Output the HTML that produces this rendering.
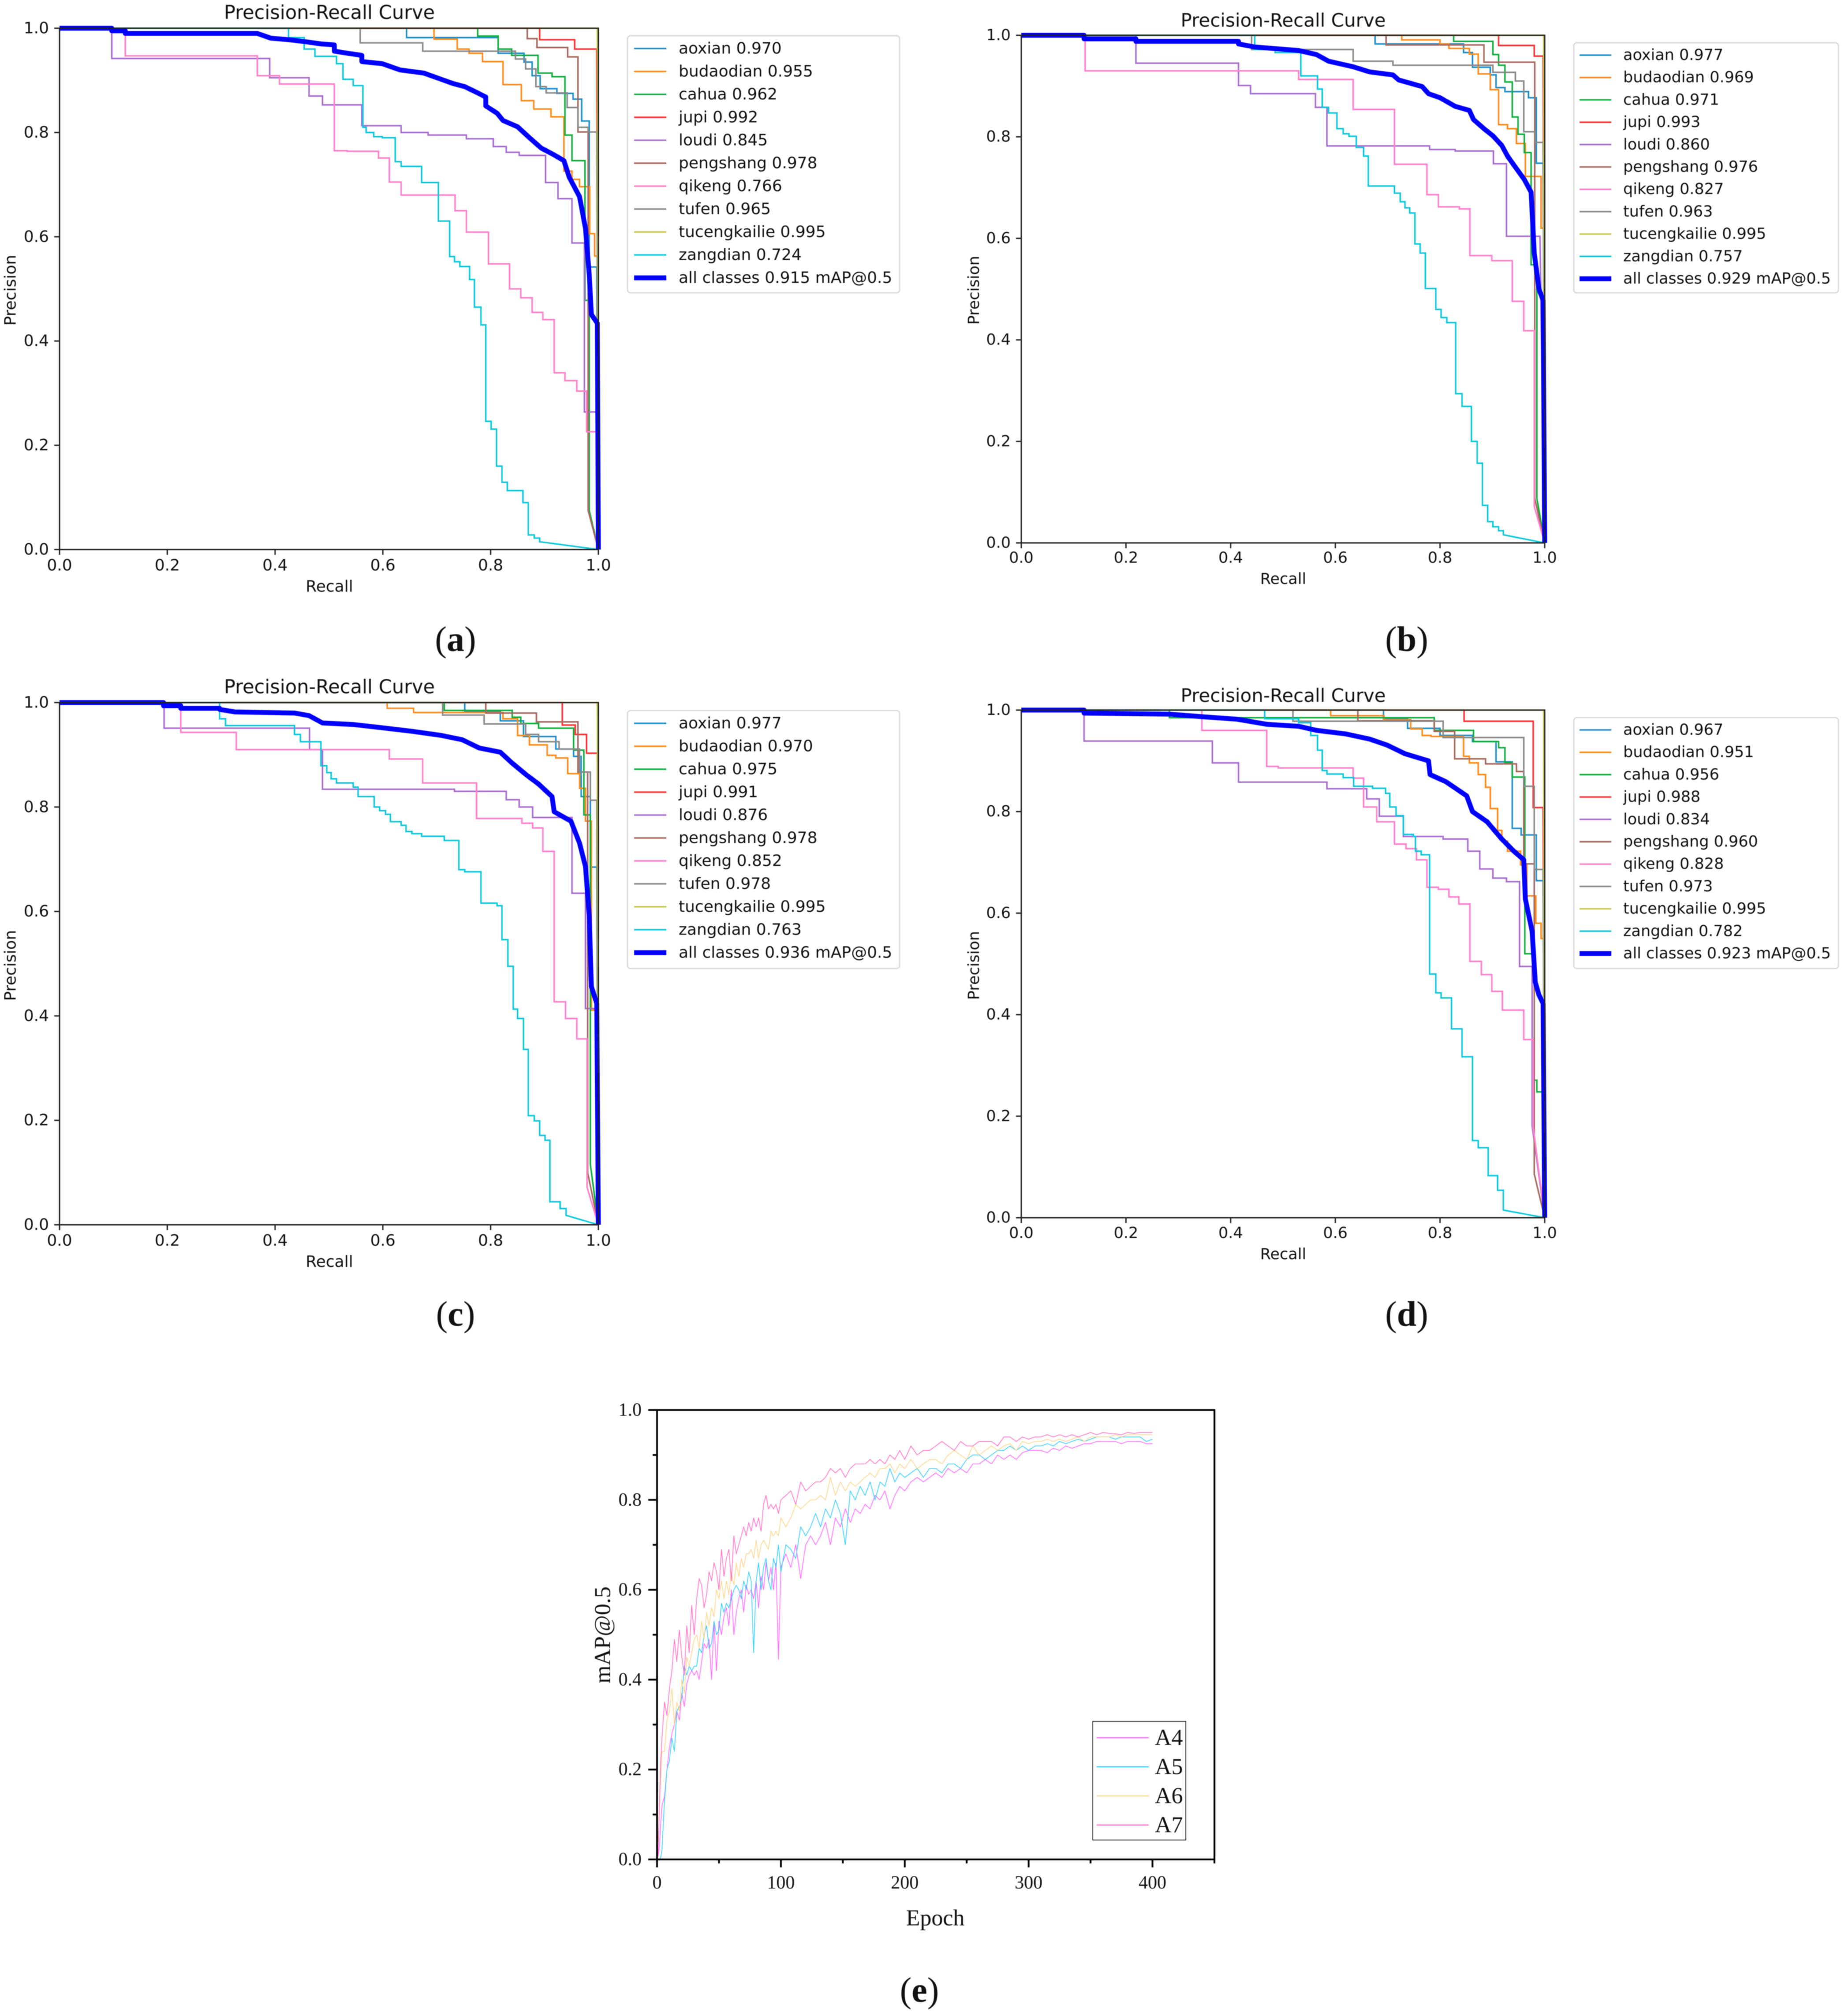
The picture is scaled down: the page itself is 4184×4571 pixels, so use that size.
<!DOCTYPE html>
<html lang="en">
<head>
<meta charset="utf-8">
<title>Precision-Recall Curves and mAP Comparison</title>
<style>
html,body{margin:0;padding:0;background:#fff;}
svg{display:block;filter:blur(0.7px);}
</style>
</head>
<body>
<svg id="figure" xmlns="http://www.w3.org/2000/svg" width="4184" height="4571" viewBox="0 0 4184 4571"></svg>
<script>
const seriesNames = ["aoxian","budaodian","cahua","jupi","loudi","pengshang","qikeng","tufen","tucengkailie","zangdian"];
const prTicks = [0,0.2,0.4,0.6,0.8,1.0];
const apA = [0.970,0.955,0.962,0.992,0.845,0.978,0.766,0.965,0.995,0.724,0.915];
const apB = [0.977,0.969,0.971,0.993,0.860,0.976,0.827,0.963,0.995,0.757,0.929];
const apC = [0.977,0.970,0.975,0.991,0.876,0.978,0.852,0.978,0.995,0.763,0.936];
const apD = [0.967,0.951,0.956,0.988,0.834,0.960,0.828,0.973,0.995,0.782,0.923];

/* Panel (a) */
const aAoxianR = [0,.644,.814,.862,.877,.892,.923,.953,.969,.983,.997,1];
const aAoxianP = [1,.982,.952,.935,.909,.884,.875,.864,.822,.542,.542,0];
const aBudaodianR = [0,.695,.738,.76,.785,.823,.857,.88,.912,.936,.951,.965,.984,.993,.998,1];
const aBudaodianP = [1,.979,.96,.952,.936,.892,.861,.845,.83,.726,.71,.696,.606,.563,.563,0];
const aCahuaR = [0,.776,.814,.839,.888,.914,.938,.951,.975,.983,1];
const aCahuaP = [1,.985,.96,.948,.914,.907,.795,.746,.478,.075,0];
const aJupiR = [0,.891,.956,.997,1];
const aJupiP = [1,.978,.96,.96,0];
const aLoudiR = [0,.097,.39,.463,.488,.561,.634,.684,.755,.805,.829,.853,.902,.925,.951,.974,.996,1];
const aLoudiP = [1,.942,.905,.87,.853,.813,.8,.795,.788,.773,.762,.756,.704,.673,.588,.264,.264,0];
const aPengshangR = [0,.868,.886,.943,.962,.981,1];
const aPengshangP = [1,.98,.963,.945,.801,.075,0];
const aQikengR = [0,.122,.367,.408,.51,.534,.592,.612,.634,.734,.755,.796,.835,.856,.877,.897,.918,.938,.96,.978,.996,1];
const aQikengP = [1,.947,.909,.893,.765,.764,.751,.705,.68,.65,.609,.548,.5,.483,.455,.441,.339,.324,.304,.226,.226,0];
const aTufenR = [0,.558,.674,.846,.865,.884,.903,.942,.962,.981,.997,1];
const aTufenP = [1,.972,.956,.941,.922,.888,.876,.848,.81,.801,.801,0];
const aTucengR = [0,.998,1];
const aTucengP = [1,1,0];
const aZangdianR = [0,.425,.454,.474,.514,.526,.545,.563,.569,.583,.599,.623,.634,.672,.703,.724,.733,.743,.761,.77,.782,.791,.801,.811,.821,.831,.86,.87,.881,.891,1];
const aZangdianP = [1,.982,.96,.946,.932,.902,.89,.81,.8,.792,.79,.744,.735,.704,.63,.562,.552,.543,.518,.465,.431,.246,.231,.16,.129,.113,.09,.028,.022,.015,0];
const aAllR = [0,.097,.097,.122,.122,.367,.392,.425,.457,.485,.51,.51,.534,.561,.561,.599,.632,.676,.703,.73,.752,.774,.791,.791,.812,.823,.85,.872,.894,.916,.936,.946,.965,.976,.983,.987,.998,1];
const aAllP = [1,1,.995,.995,.99,.99,.981,.978,.974,.97,.968,.956,.952,.948,.936,.932,.92,.914,.904,.894,.888,.877,.868,.851,.837,.823,.811,.79,.77,.758,.746,.714,.677,.616,.528,.451,.434,0];

/* Panel (b) */
const bAoxianR = [0,.676,.845,.862,.896,.907,.924,.969,.984,.997,1];
const bAoxianP = [1,.983,.966,.937,.922,.897,.889,.877,.748,.748,0];
const bBudaodianR = [0,.727,.8,.817,.856,.873,.896,.912,.929,.946,.963,.993,.998,1];
const bBudaodianP = [1,.991,.983,.974,.963,.924,.893,.824,.816,.787,.722,.62,.62,0];
const bCahuaR = [0,.826,.901,.912,.924,.938,.949,.961,.974,.985,1];
const bCahuaP = [1,.988,.962,.941,.908,.839,.805,.769,.548,.088,0];
const bJupiR = [0,.912,.98,.997,1];
const bJupiP = [1,.98,.959,.959,0];
const bLoudiR = [0,.219,.415,.438,.562,.584,.78,.829,.902,.927,.991,1];
const bLoudiP = [1,.945,.901,.885,.858,.782,.775,.772,.747,.604,.604,0];
const bPengshangR = [0,.697,.884,.981,1];
const bPengshangP = [1,.981,.947,.088,0];
const bQikengR = [0,.122,.53,.634,.713,.775,.797,.837,.857,.899,.938,.96,.98,1];
const bQikengP = [1,.93,.913,.854,.746,.686,.662,.658,.566,.556,.476,.418,.072,0];
const bTufenR = [0,.44,.634,.71,.901,.944,.96,.982,.997,1];
const bTufenP = [1,.972,.949,.941,.927,.91,.81,.789,.789,0];
const bTucengR = [0,.998,1];
const bTucengP = [1,1,0];
const bZangdianR = [0,.446,.485,.534,.566,.575,.587,.603,.615,.626,.64,.654,.663,.713,.724,.733,.742,.752,.762,.772,.792,.802,.813,.83,.842,.86,.871,.881,.891,.901,.912,.921,1];
const bZangdianP = [1,.972,.966,.92,.894,.858,.847,.816,.806,.801,.779,.762,.703,.689,.672,.66,.65,.589,.571,.501,.46,.444,.434,.294,.269,.2,.157,.074,.042,.032,.024,.016,0];
const bAllR = [0,.12,.12,.219,.219,.415,.415,.446,.53,.564,.587,.634,.665,.71,.721,.766,.778,.8,.829,.856,.864,.884,.901,.918,.929,.94,.961,.974,.98,.989,.997,1];
const bAllP = [1,1,.993,.993,.988,.988,.983,.977,.97,.962,.949,.938,.928,.922,.912,.899,.885,.877,.86,.852,.834,.816,.802,.783,.762,.746,.716,.691,.571,.5,.478,0];

/* Panel (c) */
const cAoxianR = [0,.752,.818,.861,.921,.954,.968,.985,.997,1];
const cAoxianP = [1,.983,.965,.935,.911,.897,.82,.685,.685,0];
const cBudaodianR = [0,.608,.657,.823,.85,.872,.905,.921,.943,.965,.976,.987,.996,1];
const cBudaodianP = [1,.989,.981,.969,.937,.919,.899,.894,.864,.836,.773,.411,.411,0];
const cCahuaR = [0,.714,.84,.856,.889,.954,.973,.985,1];
const cCahuaP = [1,.985,.972,.96,.951,.909,.785,.116,0];
const cJupiR = [0,.933,.957,.978,.998,1];
const cJupiP = [1,.957,.939,.903,.903,0];
const cLoudiR = [0,.194,.464,.488,.733,.829,.853,.878,.951,.976,.995,1];
const cLoudiP = [1,.951,.91,.834,.83,.814,.8,.78,.635,.414,.414,0];
const cPengshangR = [0,.791,.885,.962,.98,1];
const cPengshangP = [1,.98,.963,.867,.1,0];
const cQikengR = [0,.225,.328,.612,.674,.774,.858,.878,.897,.918,.939,.96,.979,1];
const cQikengP = [1,.943,.91,.892,.846,.778,.769,.76,.715,.427,.395,.356,.072,0];
const cTufenR = [0,.711,.788,.865,.889,.927,.965,.985,.997,1];
const cTufenP = [1,.976,.959,.939,.925,.911,.867,.813,.813,0];
const cTucengR = [0,.998,1];
const cTucengP = [1,1,0];
const cZangdianR = [0,.297,.308,.436,.447,.485,.496,.504,.514,.545,.554,.584,.594,.605,.614,.634,.643,.654,.672,.714,.741,.752,.782,.812,.821,.832,.842,.85,.861,.87,.881,.891,.901,.91,.929,.94,1];
const cZangdianP = [1,.969,.956,.939,.925,.879,.866,.854,.846,.838,.82,.8,.793,.786,.772,.765,.753,.749,.744,.736,.68,.676,.616,.611,.546,.495,.413,.395,.336,.209,.199,.171,.162,.044,.031,.018,0];
const cAllR = [0,.193,.193,.225,.225,.297,.297,.326,.436,.463,.488,.545,.605,.654,.709,.747,.779,.818,.84,.867,.889,.914,.918,.949,.965,.976,.983,.987,.997,1];
const cAllP = [1,1,.994,.994,.989,.989,.987,.982,.98,.975,.961,.958,.951,.945,.937,.929,.913,.905,.884,.861,.844,.82,.791,.773,.731,.686,.593,.456,.424,0];

/* Panel (d) */
const dAoxianR = [0,.692,.738,.8,.862,.907,.938,.955,.984,.997,1];
const dAoxianP = [1,.983,.964,.95,.938,.898,.767,.754,.664,.664,0];
const dBudaodianR = [0,.591,.693,.744,.766,.783,.845,.856,.873,.887,.896,.91,.918,.929,.954,.966,.983,.993,.998,1];
const dBudaodianP = [1,.989,.981,.963,.95,.948,.909,.896,.873,.848,.806,.763,.742,.722,.695,.634,.58,.55,.55,0];
const dCahuaR = [0,.283,.789,.864,.912,.924,.938,.962,.98,.985,.997,1];
const dCahuaP = [1,.985,.96,.938,.926,.896,.868,.52,.271,.248,.248,0];
const dJupiR = [0,.846,.978,.997,1];
const dJupiP = [1,.978,.808,.808,0];
const dLoudiR = [0,.12,.365,.415,.584,.66,.684,.73,.806,.853,.876,.901,.927,.952,.976,1];
const dLoudiP = [1,.939,.896,.858,.845,.825,.791,.751,.746,.722,.687,.669,.662,.495,.181,0];
const dPengshangR = [0,.643,.789,.828,.887,.946,.96,.98,1];
const dPengshangP = [1,.979,.958,.904,.894,.879,.697,.086,0];
const dQikengR = [0,.345,.469,.491,.634,.654,.679,.713,.735,.755,.775,.797,.817,.836,.857,.879,.899,.919,.96,.978,1];
const dQikengP = [1,.96,.889,.886,.866,.809,.78,.736,.727,.705,.651,.647,.632,.618,.505,.479,.446,.409,.351,.179,0];
const dTufenR = [0,.519,.806,.96,.98,.997,1];
const dTufenP = [1,.978,.946,.85,.686,.686,0];
const dTucengR = [0,.998,1];
const dTucengP = [1,1,0];
const dZangdianR = [0,.465,.53,.553,.566,.575,.584,.615,.635,.671,.696,.704,.716,.73,.749,.753,.764,.78,.792,.802,.822,.842,.862,.873,.892,.91,.921,1];
const dZangdianP = [1,.983,.975,.95,.921,.881,.874,.867,.85,.846,.836,.809,.792,.755,.751,.722,.715,.48,.443,.433,.372,.317,.152,.138,.083,.054,.015,0];
const dAllR = [0,.12,.12,.283,.345,.412,.469,.53,.564,.62,.665,.699,.733,.778,.781,.811,.851,.862,.89,.918,.94,.96,.963,.976,.982,.989,.997,1];
const dAllP = [1,1,.994,.992,.987,.982,.972,.968,.96,.953,.943,.931,.914,.9,.873,.859,.831,.8,.78,.746,.723,.705,.628,.564,.464,.439,.422,0];

/* Panel (e) */
const epochs = [0,1,2,3,4,6,8,10,12,14,
16,18,20,22,24,26,28,30,32,34,
36,38,40,42,44,46,48,50,52,54,
56,58,60,62,64,66,68,70,72,74,
76,78,80,82,84,86,88,90,92,94,
96,98,100,104,108,112,116,120,124,128,
132,136,140,144,148,152,156,160,164,168,
172,176,180,184,188,192,196,200,205,210,
215,220,225,230,235,240,245,250,255,260,
265,270,275,280,285,290,295,300,305,310,
315,320,325,330,335,340,345,350,355,360,
365,370,375,380,385,390,395,400];
const mapA4 = [0,.01,.03,.08,.12,.14,.20,.25,.28,.30,
.33,.31,.37,.34,.39,.41,.42,.41,.42,.40,
.44,.48,.47,.49,.40,.53,.42,.53,.50,.54,
.56,.52,.60,.50,.55,.58,.60,.55,.61,.59,
.60,.58,.62,.56,.63,.60,.66,.62,.65,.60,
.66,.445,.65,.68,.65,.70,.625,.70,.72,.70,
.72,.75,.70,.76,.74,.78,.75,.78,.77,.79,
.78,.81,.80,.82,.78,.81,.83,.82,.84,.85,
.84,.85,.86,.85,.87,.86,.87,.86,.88,.88,
.89,.88,.90,.89,.90,.89,.905,.91,.91,.91,
.905,.915,.91,.92,.915,.92,.925,.925,.93,.93,
.93,.93,.925,.93,.93,.93,.925,.925];
const mapA5 = [0,0,0,.005,.02,.13,.20,.22,.27,.24,
.33,.34,.36,.43,.41,.43,.42,.43,.43,.47,
.46,.50,.52,.47,.48,.53,.50,.51,.57,.55,
.57,.56,.58,.60,.61,.60,.58,.62,.60,.64,
.62,.46,.62,.66,.60,.65,.67,.62,.60,.67,
.65,.70,.64,.70,.69,.67,.74,.72,.74,.77,
.74,.78,.76,.80,.77,.70,.82,.80,.83,.81,
.84,.80,.84,.83,.87,.84,.86,.85,.86,.87,
.85,.87,.87,.86,.88,.88,.87,.89,.90,.90,
.89,.90,.91,.91,.92,.91,.92,.91,.92,.92,
.925,.92,.93,.925,.93,.935,.93,.935,.94,.94,
.94,.935,.94,.94,.94,.94,.93,.935];
const mapA6 = [0,.05,.12,.18,.24,.24,.31,.33,.38,.30,
.35,.33,.40,.37,.45,.43,.46,.49,.50,.47,
.53,.49,.55,.52,.56,.54,.60,.58,.62,.58,
.62,.59,.64,.61,.66,.63,.67,.65,.68,.68,
.69,.67,.71,.67,.70,.71,.70,.69,.73,.72,
.73,.72,.76,.74,.76,.79,.78,.79,.80,.80,
.81,.80,.85,.81,.84,.82,.84,.83,.84,.85,
.86,.85,.87,.87,.88,.86,.88,.87,.89,.87,
.88,.89,.89,.88,.90,.91,.90,.89,.92,.90,
.91,.92,.91,.92,.925,.91,.93,.925,.93,.93,
.935,.93,.935,.93,.935,.94,.93,.94,.94,.94,
.94,.945,.94,.945,.945,.945,.945,.945];
const mapA7 = [0,.02,.13,.22,.27,.35,.32,.38,.42,.49,
.44,.51,.45,.41,.52,.46,.565,.50,.58,.625,
.61,.56,.59,.64,.62,.66,.64,.60,.69,.63,
.67,.69,.62,.72,.68,.70,.72,.74,.72,.75,
.73,.76,.74,.76,.73,.79,.81,.78,.79,.78,
.79,.77,.80,.81,.82,.79,.84,.82,.83,.84,
.84,.85,.87,.86,.87,.85,.87,.88,.88,.88,
.89,.88,.89,.88,.90,.89,.91,.89,.92,.90,
.91,.91,.92,.93,.92,.91,.93,.92,.92,.93,
.93,.93,.92,.94,.94,.93,.94,.935,.94,.94,
.945,.94,.945,.94,.945,.94,.945,.95,.945,.95,
.948,.947,.945,.95,.948,.95,.95,.95];
const mapYTicks = [0,0.2,0.4,0.6,0.8,1.0];
const mapYMinor = [0.1,0.3,0.5,0.7,0.9];
const epochTicks = [0,100,200,300,400];
const epochMinor = [50,150,250,350,450];
const mapLegend = ["A4","A5","A6","A7"];

/* Styling and layout */
const lineColors = ["#2090c8","#ff8c1a","#12ae40","#ff3030","#a96fcf","#a56a60","#ff80cc","#8a8a8a","#c8c850","#10c8dc"];
const sans = '"DejaVu Sans","Liberation Sans",sans-serif';
const serif = '"Liberation Serif",serif';
const SVGNS = "http://www.w3.org/2000/svg";
const root = document.getElementById("figure");

function make(tag, parent){
  const el = document.createElementNS(SVGNS, tag);
  parent.appendChild(el);
  return el;
}
function addText(parent, str, x, y, size, family, anchor, name, rotate){
  const el = make("text", parent);
  
  
  el.setAttribute("x", x);
  el.setAttribute("y", y);
  el.setAttribute("font-size", size);
  el.setAttribute("font-family", family);
  el.setAttribute("text-anchor", anchor);
  el.setAttribute("dominant-baseline", "central");
  el.setAttribute("fill", "#111");
  if (rotate) el.setAttribute("transform", "rotate(-90 " + x + " " + y + ")");
  el.textContent = str;
  return el;
}
function addLine(parent, x1, y1, x2, y2, color, width, name){
  const el = make("line", parent);
  
  
  el.setAttribute("x1", x1);
  el.setAttribute("y1", y1);
  el.setAttribute("x2", x2);
  el.setAttribute("y2", y2);
  el.setAttribute("stroke", color);
  el.setAttribute("stroke-width", width);
  return el;
}
function addCaption(letter, x, y){
  const el = make("text", root);
  
  
  el.setAttribute("x", x);
  el.setAttribute("y", y);
  el.setAttribute("font-size", 80);
  el.setAttribute("font-family", serif);
  el.setAttribute("text-anchor", "middle");
  el.setAttribute("dominant-baseline", "central");
  el.setAttribute("fill", "#111");
  const a = make("tspan", el);
  a.textContent = "(";
  const b = make("tspan", el);
  b.setAttribute("font-weight", "bold");
  b.textContent = letter;
  const c = make("tspan", el);
  c.textContent = ")";
}

function stepPath(rs, ps, xf, yf){
  let d = "M" + xf(rs[0]).toFixed(1) + " " + yf(ps[0]).toFixed(1);
  for (let i = 1; i < rs.length; i++){
    if (i === rs.length - 1){
      d += "L" + xf(rs[i]).toFixed(1) + " " + yf(ps[i]).toFixed(1);
    } else {
      d += "H" + xf(rs[i]).toFixed(1) + "V" + yf(ps[i]).toFixed(1);
    }
  }
  return d;
}
function linePath(xs, ys, xf, yf){
  let d = "";
  for (let i = 0; i < xs.length; i++){
    d += (i ? "L" : "M") + xf(xs[i]).toFixed(1) + " " + yf(ys[i]).toFixed(1);
  }
  return d;
}

function drawPanel(cfg){
  const g = make("g", root);
  
  
  const xf = v => cfg.L + v * (cfg.R - cfg.L);
  const yf = v => cfg.B - v * (cfg.B - cfg.T);

  for (let i = 0; i < cfg.series.length; i++){
    const p = make("path", g);
    
    
    p.setAttribute("d", stepPath(cfg.series[i][0], cfg.series[i][1], xf, yf));
    p.setAttribute("fill", "none");
    p.setAttribute("stroke", lineColors[i]);
    p.setAttribute("stroke-width", 3.5);
    p.setAttribute("stroke-linejoin", "miter");
  }
  const all = make("path", g);
  
  
  all.setAttribute("d", linePath(cfg.all[0], cfg.all[1], xf, yf));
  all.setAttribute("fill", "none");
  all.setAttribute("stroke", "#0000ff");
  all.setAttribute("stroke-width", 11);
  all.setAttribute("stroke-linejoin", "round");

  const frame = make("rect", g);
  
  
  frame.setAttribute("x", cfg.L);
  frame.setAttribute("y", cfg.T);
  frame.setAttribute("width", cfg.R - cfg.L);
  frame.setAttribute("height", cfg.B - cfg.T);
  frame.setAttribute("fill", "none");
  frame.setAttribute("stroke", "#222");
  frame.setAttribute("stroke-width", 3);

  prTicks.forEach(t => {
    addLine(g, xf(t), cfg.B, xf(t), cfg.B + 12, "#222", 3, 'x-tick');
    addLine(g, cfg.L - 12, yf(t), cfg.L, yf(t), "#222", 3, 'y-tick');
    addText(g, t.toFixed(1), xf(t), cfg.xTickY, cfg.fs, sans, "middle", 'x-tick-label');
    addText(g, t.toFixed(1), cfg.L - 24, yf(t), cfg.fs, sans, "end", 'y-tick-label');
  });
  addText(g, "Precision-Recall Curve", cfg.titleX, cfg.titleY, cfg.fs * 1.2, sans, "middle", 'chart-title');
  addText(g, "Recall", cfg.titleX, cfg.xLabelY, cfg.fs, sans, "middle", 'x-axis-title');
  addText(g, "Precision", cfg.yLabelX, cfg.yLabelY, cfg.fs, sans, "middle", 'y-axis-title', true);

  const box = make("rect", g);
  
  
  box.setAttribute("x", cfg.lx);
  box.setAttribute("y", cfg.ly);
  box.setAttribute("width", cfg.lw);
  box.setAttribute("height", cfg.lh);
  box.setAttribute("rx", 7);
  box.setAttribute("fill", "#fff");
  box.setAttribute("stroke", "#dcdcdc");
  box.setAttribute("stroke-width", 3);

  for (let i = 0; i < 11; i++){
    const y = cfg.row0 + i * cfg.dy;
    const isAll = i === 10;
    addLine(g, cfg.hx0, y, cfg.hx1, y, isAll ? "#0000ff" : lineColors[i], isAll ? 11 : 3.5, 'legend-handle');
    const label = isAll ? "all classes " + cfg.ap[i].toFixed(3) + " mAP@0.5" : seriesNames[i] + " " + cfg.ap[i].toFixed(3);
    addText(g, label, cfg.tx, y, cfg.fs, sans, "start", 'legend-entry');
  }
}

const panelA = {id:"a",L:135,R:1357,T:64,B:1246,fs:36,titleX:747,titleY:29,xTickY:1282,xLabelY:1330,yLabelX:24,yLabelY:658,
  lx:1423,ly:81,lw:617,lh:583,row0:110,dy:52,hx0:1438,hx1:1511,tx:1539,ap:apA,
  series:[[aAoxianR,aAoxianP],[aBudaodianR,aBudaodianP],[aCahuaR,aCahuaP],[aJupiR,aJupiP],[aLoudiR,aLoudiP],[aPengshangR,aPengshangP],[aQikengR,aQikengP],[aTufenR,aTufenP],[aTucengR,aTucengP],[aZangdianR,aZangdianP]],
  all:[aAllR,aAllP]};
const panelB = {id:"b",L:2316,R:3503,T:80,B:1231,fs:35,titleX:2910,titleY:46,xTickY:1265,xLabelY:1313,yLabelX:2209,yLabelY:658,
  lx:3569,ly:97,lw:600,lh:567,row0:125,dy:50.7,hx0:3582,hx1:3654,tx:3681,ap:apB,
  series:[[bAoxianR,bAoxianP],[bBudaodianR,bBudaodianP],[bCahuaR,bCahuaP],[bJupiR,bJupiP],[bLoudiR,bLoudiP],[bPengshangR,bPengshangP],[bQikengR,bQikengP],[bTufenR,bTufenP],[bTucengR,bTucengP],[bZangdianR,bZangdianP]],
  all:[bAllR,bAllP]};
const panelC = {id:"c",L:135,R:1357,T:1593,B:2777,fs:36,titleX:747,titleY:1558,xTickY:2813,xLabelY:2861,yLabelX:24,yLabelY:2189,
  lx:1423,ly:1611,lw:617,lh:585,row0:1640,dy:52,hx0:1438,hx1:1511,tx:1539,ap:apC,
  series:[[cAoxianR,cAoxianP],[cBudaodianR,cBudaodianP],[cCahuaR,cCahuaP],[cJupiR,cJupiP],[cLoudiR,cLoudiP],[cPengshangR,cPengshangP],[cQikengR,cQikengP],[cTufenR,cTufenP],[cTucengR,cTucengP],[cZangdianR,cZangdianP]],
  all:[cAllR,cAllP]};
const panelD = {id:"d",L:2316,R:3503,T:1610,B:2761,fs:35,titleX:2910,titleY:1577,xTickY:2796,xLabelY:2844,yLabelX:2209,yLabelY:2189,
  lx:3569,ly:1627,lw:600,lh:569,row0:1655,dy:50.7,hx0:3582,hx1:3654,tx:3681,ap:apD,
  series:[[dAoxianR,dAoxianP],[dBudaodianR,dBudaodianP],[dCahuaR,dCahuaP],[dJupiR,dJupiP],[dLoudiR,dLoudiP],[dPengshangR,dPengshangP],[dQikengR,dQikengP],[dTufenR,dTufenP],[dTucengR,dTucengP],[dZangdianR,dZangdianP]],
  all:[dAllR,dAllP]};

[panelA,panelB,panelC,panelD].forEach(drawPanel);

function drawMapChart(){
  const L = 1490, R = 2754, T = 3197, B = 4216, xMax = 450;
  const xf = v => L + v / xMax * (R - L);
  const yf = v => B - v * (B - T);
  const g = make("g", root);
  
  
  const colors = ["#ff66ff","#33ccff","#ffd58a","#ff70c4"];
  const lines = [mapA4, mapA5, mapA6, mapA7];
  lines.forEach((vals, i) => {
    const p = make("path", g);
    
    
    p.setAttribute("d", linePath(epochs, vals, xf, yf));
    p.setAttribute("fill", "none");
    p.setAttribute("stroke", colors[i]);
    p.setAttribute("stroke-width", 1.6);
    p.setAttribute("stroke-linejoin", "round");
  });
  const frame = make("rect", g);
  
  
  frame.setAttribute("x", L);
  frame.setAttribute("y", T);
  frame.setAttribute("width", R - L);
  frame.setAttribute("height", B - T);
  frame.setAttribute("fill", "none");
  frame.setAttribute("stroke", "#000");
  frame.setAttribute("stroke-width", 4);

  mapYTicks.forEach(t => {
    addLine(g, L - 20, yf(t), L, yf(t), "#000", 4, 'map-y-tick');
    addText(g, t.toFixed(1), 1455, yf(t), 42, serif, "end", 'map-y-tick-label');
  });
  mapYMinor.forEach(t => {
    addLine(g, L - 10, yf(t), L, yf(t), "#000", 4, 'map-y-minor-tick');
  });
  epochTicks.forEach(t => {
    addLine(g, xf(t), B, xf(t), B + 18, "#000", 4, 'map-x-tick');
    addText(g, String(t), xf(t), 4269, 42, serif, "middle", 'map-x-tick-label');
  });
  epochMinor.forEach(t => {
    addLine(g, xf(t), B, xf(t), B + 9, "#000", 4, 'map-x-minor-tick');
  });
  addText(g, "Epoch", 2121, 4349, 52, serif, "middle", 'map-x-axis-title');
  addText(g, "mAP@0.5", 1367, 3707, 52, serif, "middle", 'map-y-axis-title', true);

  const box = make("rect", g);
  
  
  box.setAttribute("x", 2478);
  box.setAttribute("y", 3903);
  box.setAttribute("width", 211);
  box.setAttribute("height", 269);
  box.setAttribute("fill", "#fff");
  box.setAttribute("stroke", "#000");
  box.setAttribute("stroke-width", 1.5);
  const rowY = [3940, 4006, 4072, 4138];
  mapLegend.forEach((name, i) => {
    addLine(g, 2487, rowY[i], 2605, rowY[i], colors[i], 2.5, 'map-legend-handle');
    addText(g, name, 2619, rowY[i], 52, serif, "start", 'map-legend-entry');
  });
}
drawMapChart();

addCaption("a", 1033, 1450);
addCaption("b", 3190, 1450);
addCaption("c", 1033, 2980);
addCaption("d", 3190, 2980);
addCaption("e", 2085, 4513);
</script>
</body>
</html>
